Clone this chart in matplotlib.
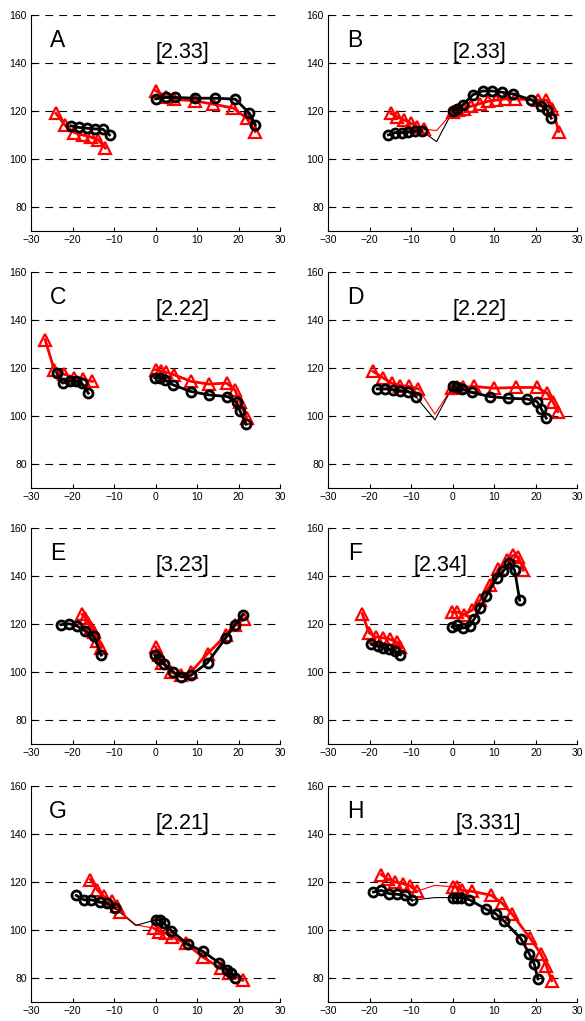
import matplotlib.pyplot as plt
import numpy as np

plt.rcParams['font.family'] = ['Liberation Sans', 'DejaVu Sans']

# panel labels and bracket texts
panel_names = ['A', 'B', 'C', 'D', 'E', 'F', 'G', 'H']
panel_tags = ['[2.33]', '[2.33]', '[2.22]', '[2.22]', '[3.23]', '[2.34]', '[2.21]', '[3.331]']
tag_x = [6.4, 6.4, 6.4, 6.4, 6.4, -3.0, 6.4, 8.6]

# --- A ---
A_red_l_x = [-24.0, -21.8, -19.6, -17.6, -15.5, -13.8, -12.1]
A_red_l_y = [119, 114, 111, 110, 109, 108, 104.5]
A_blk_l_x = [-20.4, -18.4, -16.5, -14.6, -12.7, -11.1]
A_blk_l_y = [113.8, 113.1, 112.8, 112.5, 112.4, 110.0]
A_red_r_x = [0.0, 2.4, 4.4, 9.4, 13.9, 18.7, 21.9, 24.0]
A_red_r_y = [128.5, 126.0, 124.8, 124.2, 122.8, 121.2, 117.0, 111.4]
A_blk_r_x = [0.0, 2.4, 4.6, 9.5, 14.4, 19.2, 22.6, 24.0]
A_blk_r_y = [125.0, 125.6, 125.6, 125.3, 125.3, 124.9, 119.0, 114.2]

# --- B ---
B_red_l_x = [-14.9, -13.4, -11.8, -10.1, -8.5, -6.9]
B_red_l_y = [119.0, 117.6, 116.3, 114.9, 113.5, 112.4]
B_blk_l_x = [-15.5, -13.9, -12.3, -10.7, -9.1, -7.5]
B_blk_l_y = [110.0, 111.0, 111.0, 111.3, 111.7, 111.7]
B_red_r_x = [0.0, 1.2, 2.6, 4.5, 6.5, 8.5, 10.5, 12.5, 15.0, 20.5, 22.5, 24.0, 25.5]
B_red_r_y = [119.5, 120.5, 121.0, 122.0, 123.0, 124.0, 124.5, 125.0, 125.0, 124.5, 124.5, 121.0, 111.4]
B_blk_r_x = [0.0, 1.0, 2.4, 4.8, 7.2, 9.4, 11.8, 14.4, 18.9, 21.3, 22.7, 23.7]
B_blk_r_y = [120.0, 120.7, 122.5, 126.7, 128.3, 128.3, 127.8, 127.1, 124.6, 122.2, 120.4, 117.0]
B_red_gap = (-3.9, 111.8)
B_blk_gap = (-3.9, 107.2)

# --- C ---
C_red_l_x = [-26.6, -24.4, -22.0, -19.6, -17.6, -15.2]
C_red_l_y = [131.8, 119.2, 117.4, 116.0, 115.5, 114.4]
C_blk_l_x = [-23.8, -22.4, -20.6, -19.2, -17.8, -16.2]
C_blk_l_y = [117.9, 113.7, 114.7, 114.7, 113.7, 109.5]
C_red_r_x = [0.0, 1.4, 2.4, 4.4, 8.6, 12.8, 17.1, 19.1, 20.3, 21.9]
C_red_r_y = [119.2, 118.8, 118.3, 117.2, 114.4, 113.3, 113.7, 110.9, 106.0, 99.0]
C_blk_r_x = [-0.2, 1.0, 2.2, 4.2, 8.5, 12.9, 17.3, 19.5, 20.3, 21.8]
C_blk_r_y = [116.0, 116.0, 115.0, 113.0, 110.2, 108.8, 108.1, 105.8, 102.1, 96.6]

# --- D ---
D_red_l_x = [-19.2, -16.9, -14.7, -12.6, -10.5, -8.3]
D_red_l_y = [118.6, 116.0, 113.7, 112.7, 112.3, 111.3]
D_blk_l_x = [-18.2, -16.3, -14.5, -12.6, -10.7, -8.9]
D_blk_l_y = [111.3, 111.3, 110.9, 110.6, 110.2, 108.1]
D_red_r_x = [-0.2, 1.0, 2.4, 5.0, 10.0, 15.1, 20.3, 22.7, 24.1, 25.3]
D_red_r_y = [111.6, 111.9, 111.9, 112.3, 111.6, 111.9, 111.9, 109.5, 106.0, 101.8]
D_blk_r_x = [0.0, 1.0, 2.2, 4.6, 9.0, 13.4, 17.9, 20.3, 21.3, 22.5]
D_blk_r_y = [112.3, 111.9, 111.3, 109.8, 108.1, 107.4, 107.1, 106.0, 103.0, 99.1]
D_red_gap = (-4.3, 100.8)
D_blk_gap = (-4.3, 98.4)

# --- E ---
E_red_l_x = [-17.7, -16.9, -16.2, -15.5, -14.8, -14.0, -13.2]
E_red_l_y = [124.0, 122.5, 120.5, 118.5, 116.5, 113.0, 110.0]
E_blk_l_x = [-22.8, -20.8, -19.0, -16.9, -14.9, -13.1]
E_blk_l_y = [119.7, 120.1, 119.2, 117.0, 114.9, 107.0]
E_red_r_x = [0.0, 0.8, 1.6, 3.6, 6.0, 8.5, 12.5, 16.9, 19.2, 21.4]
E_red_r_y = [110.4, 107.0, 103.9, 100.0, 98.6, 100.0, 107.6, 115.3, 119.4, 122.2]
E_blk_r_x = [-0.2, 0.8, 2.0, 4.2, 6.2, 8.5, 12.5, 16.9, 19.1, 21.0]
E_blk_r_y = [107.0, 105.3, 103.3, 100.0, 97.9, 98.6, 103.9, 114.2, 119.7, 123.9]

# --- F ---
F_red_l_x = [-21.8, -20.2, -18.6, -16.7, -15.1, -13.5, -12.6]
F_red_l_y = [124.3, 116.4, 114.6, 114.2, 113.6, 112.5, 110.4]
F_blk_l_x = [-19.6, -18.0, -16.7, -15.4, -13.9, -12.6]
F_blk_l_y = [111.5, 110.8, 110.0, 109.4, 108.6, 107.2]
F_red_r_x = [-0.2, 1.0, 2.6, 4.6, 6.6, 9.0, 11.0, 13.0, 14.6, 15.8, 17.0]
F_red_r_y = [125.0, 125.0, 123.9, 125.7, 129.9, 136.1, 143.0, 146.5, 148.6, 147.9, 142.4]
F_blk_r_x = [-0.2, 0.9, 2.5, 4.1, 5.2, 6.6, 8.1, 10.6, 12.2, 13.6, 14.9, 16.1]
F_blk_r_y = [118.8, 119.4, 118.3, 119.2, 122.2, 126.8, 131.7, 139.3, 142.1, 145.6, 142.4, 129.9]

# --- G ---
G_red_l_x = [-15.7, -14.1, -12.5, -10.5, -9.3, -8.5]
G_red_l_y = [121.0, 116.8, 114.0, 111.9, 109.8, 107.7]
G_blk_l_x = [-19.1, -17.3, -15.5, -13.5, -11.7, -9.8]
G_blk_l_y = [114.4, 112.6, 112.6, 111.6, 111.2, 109.1]
G_red_r_x = [-0.4, 0.8, 2.4, 4.0, 7.3, 11.3, 15.7, 17.7, 21.0]
G_red_r_y = [100.7, 99.3, 98.6, 97.2, 94.4, 88.8, 84.0, 81.9, 79.0]
G_blk_r_x = [0.0, 1.0, 2.0, 3.8, 7.7, 11.3, 15.2, 17.3, 18.1, 19.1]
G_blk_r_y = [104.2, 104.2, 102.8, 99.7, 94.1, 91.2, 86.4, 83.3, 81.9, 80.2]
G_red_gap = (-4.8, 102.2)
G_blk_gap = (-4.8, 101.9)

# --- H ---
H_red_l_x = [-17.2, -15.6, -13.8, -11.9, -10.3, -8.7]
H_red_l_y = [123.1, 121.1, 120.0, 119.2, 118.4, 116.1]
H_blk_l_x = [-19.1, -17.2, -15.4, -13.5, -11.6, -9.8]
H_blk_l_y = [115.8, 116.5, 115.2, 114.9, 114.5, 112.4]
H_red_r_x = [0.0, 1.0, 2.2, 4.6, 9.2, 11.8, 14.2, 18.6, 21.2, 22.5, 23.8]
H_red_r_y = [118.0, 118.0, 116.5, 116.1, 114.5, 111.3, 106.8, 96.6, 90.1, 85.2, 78.9]
H_blk_r_x = [0.0, 1.0, 2.0, 4.0, 8.1, 10.3, 12.4, 16.4, 18.4, 19.6, 20.5]
H_blk_r_y = [113.5, 113.5, 113.5, 112.6, 108.6, 106.8, 103.6, 96.4, 90.1, 85.9, 79.6]
H_red_gap = (-4.4, 118.6)
H_blk_gap = (-4.4, 113.5)

panels = [
    (A_red_l_x, A_red_l_y, A_blk_l_x, A_blk_l_y, A_red_r_x, A_red_r_y, A_blk_r_x, A_blk_r_y, None, None),
    (B_red_l_x, B_red_l_y, B_blk_l_x, B_blk_l_y, B_red_r_x, B_red_r_y, B_blk_r_x, B_blk_r_y, B_red_gap, B_blk_gap),
    (C_red_l_x, C_red_l_y, C_blk_l_x, C_blk_l_y, C_red_r_x, C_red_r_y, C_blk_r_x, C_blk_r_y, None, None),
    (D_red_l_x, D_red_l_y, D_blk_l_x, D_blk_l_y, D_red_r_x, D_red_r_y, D_blk_r_x, D_blk_r_y, D_red_gap, D_blk_gap),
    (E_red_l_x, E_red_l_y, E_blk_l_x, E_blk_l_y, E_red_r_x, E_red_r_y, E_blk_r_x, E_blk_r_y, None, None),
    (F_red_l_x, F_red_l_y, F_blk_l_x, F_blk_l_y, F_red_r_x, F_red_r_y, F_blk_r_x, F_blk_r_y, None, None),
    (G_red_l_x, G_red_l_y, G_blk_l_x, G_blk_l_y, G_red_r_x, G_red_r_y, G_blk_r_x, G_blk_r_y, G_red_gap, G_blk_gap),
    (H_red_l_x, H_red_l_y, H_blk_l_x, H_blk_l_y, H_red_r_x, H_red_r_y, H_blk_r_x, H_blk_r_y, H_red_gap, H_blk_gap),
]

fig = plt.figure(figsize=(5.85, 10.21), dpi=100)

lefts = [0.053, 0.561]
bottoms = [0.7738, 0.522, 0.2713, 0.0186]
w, h = 0.426, 0.2116

red_style = dict(color='red', lw=2.0, marker='^', ms=8.5, mfc='none', mec='red', mew=1.6)
blk_style = dict(color='black', lw=2.0, marker='o', ms=6.5, mfc='none', mec='black', mew=2.0)

for i, p in enumerate(panels):
    rlx, rly, blx, bly, rrx, rry, brx, bry, rgap, bgap = p
    ax = fig.add_axes([lefts[i % 2], bottoms[i // 2], w, h])

    # thin connecting line through the gap
    if rgap is not None:
        ax.plot([rlx[-1], rgap[0], rrx[0]], [rly[-1], rgap[1], rry[0]], color='red', lw=0.8)
        ax.plot([blx[-1], bgap[0], brx[0]], [bly[-1], bgap[1], bry[0]], color='black', lw=0.8)

    ax.plot(rlx, rly, **red_style)
    ax.plot(rrx, rry, **red_style)
    ax.plot(blx, bly, **blk_style)
    ax.plot(brx, bry, **blk_style)

    ax.set_xlim(-30, 30)
    ax.set_ylim(70, 160)
    ax.set_xticks(np.arange(-30, 31, 10))
    ax.set_yticks([80, 100, 120, 140, 160])
    for yv in [80, 100, 120, 140, 160]:
        ax.axhline(yv, color='black', lw=0.8, ls=(0, (7, 5.5)), zorder=0)
    ax.spines['top'].set_visible(False)
    ax.spines['right'].set_visible(False)
    ax.tick_params(direction='in', length=3, labelsize=7.5, pad=3)

    ax.text(-23.5, 149.5, panel_names[i], fontsize=16.5, ha='center', va='center')
    ax.text(tag_x[i], 144.2, panel_tags[i], fontsize=15.5, ha='center', va='center')

fig.savefig('out.png', dpi=100)
